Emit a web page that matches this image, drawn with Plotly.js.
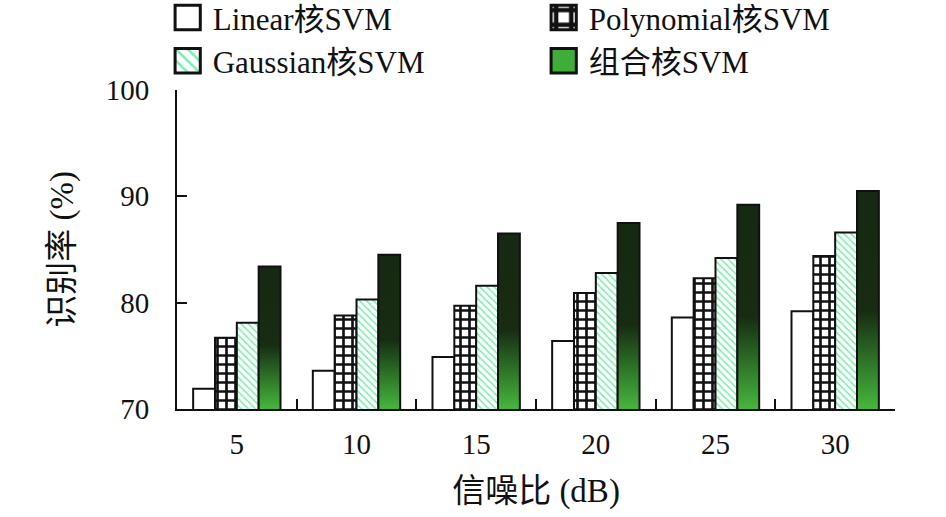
<!DOCTYPE html>
<html>
<head>
<meta charset="utf-8">
<script src="https://cdn.plot.ly/plotly-3.0.1.min.js"></script>
<style>
  html, body { margin: 0; padding: 0; background: #fff; }
  #chart { width: 946px; height: 517px; }
</style>
</head>
<body>
<div id="chart"></div>
<script>
// 信噪比分组与各核函数识别率
const snrLabels = ["5", "10", "15", "20", "25", "30"];
const linearVals = [71.9, 73.6, 74.9, 76.4, 78.6, 79.2];
const polyVals = [76.7, 78.8, 79.7, 80.9, 82.3, 84.4];
const gaussVals = [78.1, 80.3, 81.6, 82.8, 84.2, 86.6];
const comboVals = [83.4, 84.5, 86.5, 87.5, 89.2, 90.5];
const seriesNames = ["Linear核SVM", "Polynomial核SVM", "Gaussian核SVM", "组合核SVM"];

const FONT = "'Times New Roman', 'Liberation Serif', 'Noto Sans CJK SC', serif";

const outline = { color: "#111", width: 2 };

const traces = [
  {
    name: seriesNames[0], x: snrLabels, y: linearVals, type: "bar",
    marker: { color: "#fff", line: outline },
  },
  {
    name: seriesNames[1], x: snrLabels, y: polyVals, type: "bar",
    marker: {
      color: "#fff", line: outline,
      pattern: { shape: "+", fgcolor: "#111", bgcolor: "#fff", size: 9, solidity: 0.5 },
    },
  },
  {
    name: seriesNames[2], x: snrLabels, y: gaussVals, type: "bar",
    marker: {
      color: "#fff", line: outline,
      pattern: { shape: "\\", fgcolor: "#7aeeac", bgcolor: "#fff", size: 5, solidity: 0.3 },
    },
  },
  {
    name: seriesNames[3], x: snrLabels, y: comboVals, type: "bar",
    marker: { color: "#3fae38", line: outline },
  },
];

const layout = {
  width: 946,
  height: 517,
  margin: { l: 177, r: 51, t: 90, b: 108, autoexpand: false },
  paper_bgcolor: "#fff",
  plot_bgcolor: "#fff",
  font: { family: FONT, size: 29, color: "#111" },
  bargap: 0.27,
  bargroupgap: 0,
  showlegend: true,
  legend: {
    orientation: "h",
    x: -0.006, xanchor: "left",
    y: 1.311, yanchor: "top",
    entrywidth: 331, entrywidthmode: "pixels",
    traceorder: "normal",
    font: { family: FONT, size: 31, color: "#111" },
    bgcolor: "rgba(0,0,0,0)",
  },
  xaxis: {
    type: "category",
    showline: true, linecolor: "#111", linewidth: 2,
    ticks: "inside", tickson: "boundaries", ticklen: 10, tickwidth: 2, tickcolor: "#111",
    showgrid: false, zeroline: false,
    ticklabelstandoff: 8,
    title: { text: "信噪比 (dB)", standoff: 20, font: { family: FONT, size: 33 } },
  },
  yaxis: {
    range: [70, 100], dtick: 10, tick0: 70,
    showline: true, linecolor: "#111", linewidth: 2,
    ticks: "inside", ticklen: 10, tickwidth: 2, tickcolor: "#111",
    showgrid: false, zeroline: false,
    ticklabelstandoff: 20,
    title: { text: "识别率 (%)", standoff: 22, font: { family: FONT, size: 33 } },
  },
};

const config = { displayModeBar: false, staticPlot: true };

const GRAD_STOPS = [["0", "#162912"], ["0.55", "#172c13"], ["0.8", "#2f7a29"], ["1", "#47b63d"]];

// 组合核柱子：每根柱子从柱顶到横轴做深绿→亮绿渐变（Plotly 柱子本身不支持渐变）
function applyGradient(gd) {
  const ns = "http://www.w3.org/2000/svg";
  const defs = gd.querySelector(".main-svg defs");
  const plotH = gd._fullLayout._size.h;

  const combo = gd.querySelectorAll(".barlayer .trace")[3];
  if (combo) {
    combo.querySelectorAll(".point path").forEach((p, i) => {
      const top = p.getBBox().y;
      const grad = document.createElementNS(ns, "linearGradient");
      grad.setAttribute("id", "comboGrad" + i);
      grad.setAttribute("gradientUnits", "userSpaceOnUse");
      grad.setAttribute("x1", "0"); grad.setAttribute("x2", "0");
      grad.setAttribute("y1", String(top)); grad.setAttribute("y2", String(plotH));
      GRAD_STOPS.forEach(([off, col]) => {
        const stop = document.createElementNS(ns, "stop");
        stop.setAttribute("offset", off);
        stop.setAttribute("stop-color", col);
        grad.appendChild(stop);
      });
      defs.appendChild(grad);
      p.style.fill = "url(#comboGrad" + i + ")";
    });
  }

  // 图例色块放大，去掉图例裁剪避免色块被切
  gd.querySelectorAll(".legend .scrollbox").forEach((g) => g.removeAttribute("clip-path"));
  gd.querySelectorAll(".legend .legendpoints path").forEach((p) => {
    p.setAttribute("transform", "translate(15,0) scale(2.1,2.05)");
    p.style.vectorEffect = "non-scaling-stroke";
    p.style.strokeWidth = "3px";
  });
}

Plotly.newPlot("chart", traces, layout, config).then(applyGradient);
</script>
</body>
</html>
